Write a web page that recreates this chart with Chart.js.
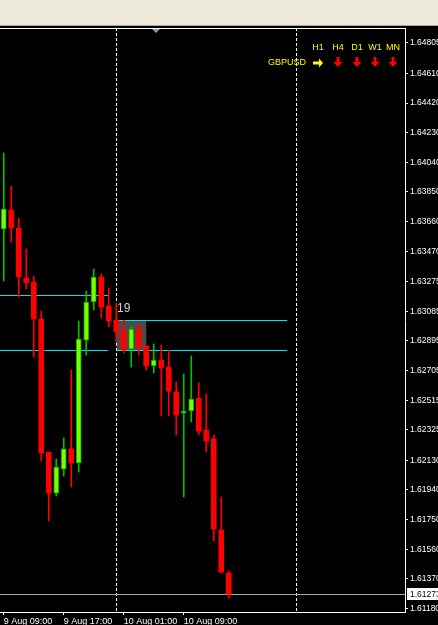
<!DOCTYPE html>
<html>
<head>
<meta charset="utf-8">
<script src="https://cdn.jsdelivr.net/npm/chart.js@4.4.0/dist/chart.umd.min.js"></script>
<style>
    html, body { margin: 0; padding: 0; background: #ece9d8; overflow: hidden; }
    #top { height: 25px; background: #ece9d8; border-bottom: 1px solid #aca899; }
    #wrap { position: absolute; left: 0; top: 26px; width: 438px; height: 599px; background: #000; }
</style>
</head>
<body>
<div id="top"></div>
<div id="wrap"><canvas id="chart" width="438" height="599"></canvas></div>
<script>
// ================= DATA (GBPUSD, H1, from 9 Aug 09:00) =================

const opens  = [1.63613, 1.63735, 1.63619, 1.63299, 1.63273, 1.63036, 1.62183, 1.61920, 1.62074, 1.62203,
                1.62113, 1.62901, 1.63145, 1.63305, 1.63119, 1.63029, 1.62959, 1.62844, 1.62972, 1.62863,
                1.62735, 1.62773, 1.62728, 1.62568, 1.62433, 1.62446, 1.62529, 1.62324, 1.62267, 1.61683,
                1.61408];
const highs  = [1.64100, 1.63888, 1.63683, 1.63485, 1.63311, 1.63087, 1.62183, 1.62138, 1.62273, 1.62709,
                1.63023, 1.63215, 1.63356, 1.63324, 1.63235, 1.63138, 1.63029, 1.62985, 1.63010, 1.62863,
                1.62876, 1.62869, 1.62837, 1.62632, 1.62683, 1.62799, 1.62626, 1.62555, 1.62292, 1.61895,
                1.61421];
const lows   = [1.63279, 1.63529, 1.63177, 1.63228, 1.62792, 1.62126, 1.61741, 1.61901, 1.62029, 1.61959,
                1.62055, 1.62805, 1.63094, 1.63042, 1.62985, 1.62888, 1.62818, 1.62728, 1.62805, 1.62709,
                1.62690, 1.62414, 1.62414, 1.62292, 1.61895, 1.62376, 1.62292, 1.62183, 1.61613, 1.61408,
                1.61247];
const closes = [1.63741, 1.63619, 1.63305, 1.63267, 1.63036, 1.62177, 1.61920, 1.62087, 1.62203, 1.62113,
                1.62908, 1.63145, 1.63305, 1.63113, 1.63023, 1.62953, 1.62837, 1.62972, 1.62856, 1.62735,
                1.62773, 1.62722, 1.62574, 1.62420, 1.62446, 1.62523, 1.62318, 1.62254, 1.61690, 1.61414,
                1.61273];

const xTickBars   = [0, 8, 16, 24];
const xTickLabels = ["9 Aug 09:00", "9 Aug 17:00", "10 Aug 01:00", "10 Aug 09:00"];

const priceTicks = [1.64805, 1.64610, 1.64420, 1.64230, 1.64040, 1.63850, 1.63660, 1.63470, 1.63275, 1.63085,
                    1.62895, 1.62705, 1.62515, 1.62325, 1.62130, 1.61940, 1.61750, 1.61560, 1.61370, 1.61180];

const separatorBars = [15, 39];           // day starts
const leftLevels    = [1.63190, 1.62837]; // previous day lines
const leftLevelBars = [-0.5, 13.9];
const rightLevels    = [1.63029, 1.62837];
const rightLevelBars = [15.1, 37.8];
const zoneBars   = [15.1, 19.0];
const zonePrices = [1.63029, 1.62837];
const zoneLabel  = "19";

const symbol    = "GBPUSD";
const tfLabels  = ["H1", "H4", "D1", "W1", "MN"];
const tfTrend   = ["flat", "down", "down", "down", "down"];

// ================= COLORS =================

const BULL = "#7cfc00";
const BULL_EDGE = "#00b000";
const BEAR = "#ff0000";
const isBull = i => closes[i] >= opens[i];

// ================= OVERLAY PLUGIN =================

function arrowRight(ctx, cx, cy) {
    ctx.beginPath();
    ctx.moveTo(cx - 5, cy - 1.5);
    ctx.lineTo(cx + 1, cy - 1.5);
    ctx.lineTo(cx + 1, cy - 4.5);
    ctx.lineTo(cx + 5, cy);
    ctx.lineTo(cx + 1, cy + 4.5);
    ctx.lineTo(cx + 1, cy + 1.5);
    ctx.lineTo(cx - 5, cy + 1.5);
    ctx.closePath();
    ctx.fill();
}

function arrowDown(ctx, cx, cy) {
    ctx.beginPath();
    ctx.moveTo(cx - 1.5, cy - 5);
    ctx.lineTo(cx + 1.5, cy - 5);
    ctx.lineTo(cx + 1.5, cy);
    ctx.lineTo(cx + 4.5, cy);
    ctx.lineTo(cx, cy + 5);
    ctx.lineTo(cx - 4.5, cy);
    ctx.lineTo(cx - 1.5, cy);
    ctx.closePath();
    ctx.fill();
}

const overlay = {
    id: "overlay",
    beforeDatasetsDraw(chart) {
        const { ctx, chartArea: a, scales: { x, y } } = chart;
        ctx.save();

        // zone box
        const zx0 = x.getPixelForValue(zoneBars[0]);
        const zx1 = x.getPixelForValue(zoneBars[1]);
        const zy0 = y.getPixelForValue(zonePrices[0]);
        const zy1 = y.getPixelForValue(zonePrices[1]);
        ctx.fillStyle = "#4b4b4b";
        ctx.fillRect(zx0, zy0, zx1 - zx0, zy1 - zy0);

        // separators
        ctx.strokeStyle = "#ffffff";
        ctx.lineWidth = 1;
        ctx.setLineDash([3, 2]);
        separatorBars.forEach(b => {
            const px = Math.round(x.getPixelForValue(b)) + 0.5;
            ctx.beginPath();
            ctx.moveTo(px, a.top);
            ctx.lineTo(px, a.bottom);
            ctx.stroke();
        });
        ctx.setLineDash([]);

        // level lines
        ctx.strokeStyle = "#00e5ee";
        const level = (p, bars) => {
            const py = Math.round(y.getPixelForValue(p)) + 0.5;
            ctx.beginPath();
            ctx.moveTo(x.getPixelForValue(bars[0]), py);
            ctx.lineTo(x.getPixelForValue(bars[1]), py);
            ctx.stroke();
        };
        leftLevels.forEach(p => level(p, leftLevelBars));
        rightLevels.forEach(p => level(p, rightLevelBars));

        // bid line
        const by = Math.round(y.getPixelForValue(closes[closes.length - 1])) + 0.5;
        ctx.strokeStyle = "#a8a8b0";
        ctx.beginPath();
        ctx.moveTo(a.left, by);
        ctx.lineTo(a.right, by);
        ctx.stroke();

        // zone label
        ctx.fillStyle = "#d0d0d0";
        ctx.font = "12px 'Liberation Sans', sans-serif";
        ctx.textBaseline = "bottom";
        ctx.fillText(zoneLabel, zx0, zy0 - 5);

        ctx.restore();
    },
    afterDraw(chart) {
        const { ctx, chartArea: a, scales: { y } } = chart;
        ctx.save();

        // top border + shift marker
        ctx.strokeStyle = "#ffffff";
        ctx.beginPath();
        ctx.moveTo(0, a.top + 0.5);
        ctx.lineTo(a.right, a.top + 0.5);
        ctx.stroke();
        ctx.fillStyle = "#8796a8";
        ctx.beginPath();
        ctx.moveTo(152, a.top + 1);
        ctx.lineTo(160, a.top + 1);
        ctx.lineTo(156, a.top + 5);
        ctx.closePath();
        ctx.fill();

        // current price box
        const last = closes[closes.length - 1];
        const by = Math.round(y.getPixelForValue(last));
        ctx.fillStyle = "#ffffff";
        ctx.fillRect(a.right + 2, by - 6, chart.width - a.right - 2, 12);
        ctx.fillStyle = "#000000";
        ctx.font = "8.5px 'Liberation Sans', sans-serif";
        ctx.textBaseline = "middle";
        ctx.textAlign = "left";
        ctx.fillText(last.toFixed(5), a.right + 5, by + 0.5);

        // trend panel
        ctx.font = "9px 'Liberation Sans', sans-serif";
        ctx.fillStyle = "#ffff00";
        ctx.textAlign = "center";
        const cols = [318, 338, 357, 375, 393];
        tfLabels.forEach((t, i) => ctx.fillText(t, cols[i], 22));
        ctx.textAlign = "right";
        ctx.fillText(symbol, 306, 37);
        tfTrend.forEach((t, i) => {
            if (t === "flat") {
                ctx.fillStyle = "#ffff00";
                arrowRight(ctx, cols[i], 37);
            } else {
                ctx.fillStyle = "#ff0000";
                arrowDown(ctx, cols[i], 36);
            }
        });

        ctx.restore();
    }
};

// ================= CHART =================

const bars = opens.map((_, i) => i);

new Chart(document.getElementById("chart"), {
    type: "bar",
    data: {
        datasets: [
            {
                label: "body",
                order: 0,
                data: bars.map(i => ({ x: i, y: [opens[i], closes[i]] })),
                backgroundColor: c => isBull(c.dataIndex) ? BULL : BEAR,
                borderColor: c => isBull(c.dataIndex) ? BULL_EDGE : BEAR,
                borderWidth: c => isBull(c.dataIndex) ? 1 : 0,
                borderSkipped: false,
                barThickness: 5,
                grouped: false
            },
            {
                label: "wick",
                order: 1,
                data: bars.map(i => ({ x: i, y: [lows[i], highs[i]] })),
                backgroundColor: c => isBull(c.dataIndex) ? "#00c000" : BEAR,
                borderWidth: 0,
                barThickness: 1,
                grouped: false
            }
        ]
    },
    options: {
        responsive: false,
        animation: false,
        layout: { padding: { top: 2, left: 0, right: 0, bottom: 0 } },
        plugins: { legend: { display: false }, tooltip: { enabled: false } },
        scales: {
            x: {
                type: "linear",
                min: -0.5,
                max: 53.5,
                offset: false,
                afterBuildTicks: s => { s.ticks = xTickBars.map(v => ({ value: v })); },
                afterFit: s => { s.height = 13; s.paddingLeft = 0; s.paddingRight = 0; },
                ticks: {
                    callback: v => xTickLabels[xTickBars.indexOf(v)],
                    align: "start",
                    maxRotation: 0,
                    autoSkip: false,
                    padding: 1,
                    color: "#ffffff",
                    font: { family: "'Liberation Sans', sans-serif", size: 9 }
                },
                grid: { offset: false, drawOnChartArea: false, drawTicks: true, tickLength: 3, color: "#ffffff" },
                border: { display: true, color: "#ffffff" }
            },
            y: {
                position: "right",
                min: 1.61158,
                max: 1.64901,
                afterBuildTicks: s => { s.ticks = priceTicks.map(v => ({ value: v })); },
                afterFit: s => { s.width = 33; s.paddingTop = 0; s.paddingBottom = 0; },
                ticks: {
                    callback: v => v.toFixed(5),
                    autoSkip: false,
                    padding: 2,
                    color: "#ffffff",
                    font: { family: "'Liberation Sans', sans-serif", size: 8.5 }
                },
                grid: { drawOnChartArea: false, drawTicks: true, tickLength: 3, color: "#ffffff" },
                border: { display: true, color: "#ffffff" }
            }
        }
    },
    plugins: [overlay]
});
</script>
</body>
</html>
